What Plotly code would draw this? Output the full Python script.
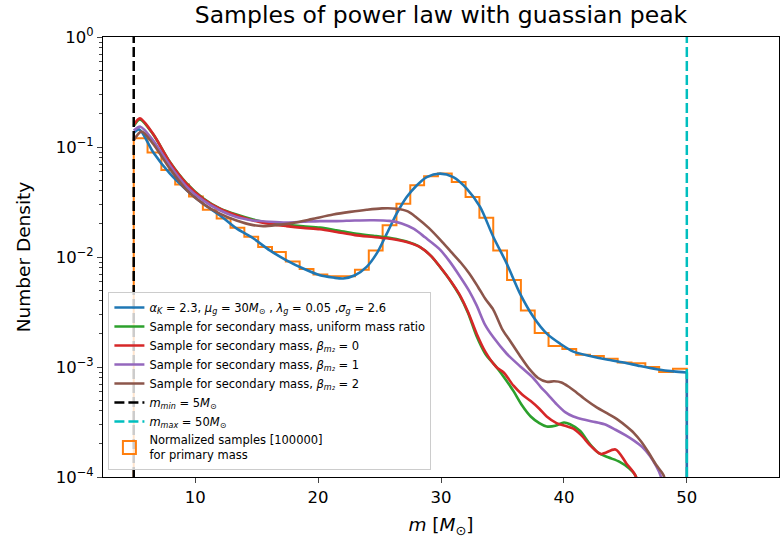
import numpy as np
import plotly.graph_objects as go

# ---------------- data ----------------
mmin = 5.0
mmax = 50.0

# model curve (power law + gaussian peak)
model_m = [5.0, 5.45, 6.57, 7.93, 9.29, 10.64, 12.0, 13.36, 14.72, 16.07, 17.43, 18.79,
           20.15, 21.23, 22.04, 23.0, 23.95, 24.76, 25.58, 26.39, 27.21, 28.02, 28.84,
           29.92, 31.0, 32.09, 33.18, 34.26, 35.35, 36.43, 37.52, 38.61, 39.69, 40.77,
           42.13, 43.49, 44.85, 46.2, 47.56, 48.92, 50.0]
model_p = [0.1349, 0.1445, 0.0902, 0.0575, 0.0407, 0.0305, 0.0240, 0.0182, 0.0148, 0.01148,
           0.00933, 0.00785, 0.00682, 0.00650, 0.00637, 0.00682, 0.00813, 0.01072, 0.01622,
           0.0248, 0.0351, 0.0447, 0.0533, 0.0573, 0.0533, 0.0419, 0.0285, 0.0152, 0.00871,
           0.00465, 0.00285, 0.00201, 0.00163, 0.00138, 0.00126, 0.00117, 0.00110, 0.00102,
           0.000955, 0.000912, 0.000891]

# histogram of primary-mass samples (40 bins between mmin and mmax)
hist_density = [0.1202, 0.0891, 0.0617, 0.0457, 0.0355, 0.0269, 0.0224, 0.0184, 0.0153,
                0.0123, 0.0111, 0.00912, 0.00776, 0.00692, 0.00668, 0.00668, 0.00767,
                0.01148, 0.0194, 0.0305, 0.0449, 0.0541, 0.0573, 0.0481, 0.0351, 0.0228,
                0.01148, 0.00617, 0.00327, 0.00204, 0.00155, 0.00146, 0.00129, 0.00126,
                0.00119, 0.00110, 0.00108, 0.00100, 0.000902, 0.000966]

# secondary mass, uniform mass ratio
green_m = [5.0, 5.5, 6.57, 7.93, 9.29, 10.64, 12.0, 13.36, 14.72, 16.07, 17.43, 18.79, 20.15,
           21.5, 23.0, 24.5, 26.0, 27.2, 28.3, 29.2, 30.0, 30.8, 31.5, 32.2, 32.9, 33.6,
           34.5, 35.3, 35.9, 36.6, 37.3, 38.0, 38.6, 39.3, 40.0, 40.5, 41.3, 42.1, 42.8,
           43.6, 44.5, 45.3, 45.8, 46.6]
green_p = [0.155, 0.178, 0.131, 0.0735, 0.0470, 0.0342, 0.0277, 0.0243, 0.0219, 0.0204,
           0.0196, 0.0190, 0.0185, 0.0175, 0.0163, 0.0156, 0.0148, 0.0138, 0.0123, 0.0102,
           0.0079, 0.0060, 0.00450, 0.00310, 0.00190, 0.00132, 0.00100, 0.000759, 0.000603,
           0.000447, 0.000355, 0.000309, 0.000288, 0.000292, 0.000313, 0.000302, 0.000263,
           0.000200, 0.000166, 0.000151, 0.000138, 0.000120, 0.000104, 0.00005]

# secondary mass, beta = 0
red_m = [5.0, 5.5, 6.57, 7.93, 9.29, 10.64, 12.0, 13.36, 14.72, 16.07, 17.43, 18.79, 20.15,
         21.5, 23.0, 24.5, 26.0, 27.2, 28.3, 29.2, 30.0, 30.8, 31.5, 32.2, 32.9, 33.6, 34.5,
         35.1, 35.9, 36.6, 37.3, 38.0, 38.6, 39.4, 40.1, 40.77, 41.4, 42.2, 43.0, 44.2, 45.1,
         45.8, 46.6]
red_p = [0.158, 0.182, 0.132, 0.0731, 0.0465, 0.0339, 0.0275, 0.0240, 0.0215, 0.0200, 0.0191,
         0.0184, 0.0179, 0.0169, 0.0158, 0.0152, 0.0146, 0.0137, 0.0123, 0.0102, 0.00794,
         0.00603, 0.00457, 0.00316, 0.00201, 0.00138, 0.00100, 0.000891, 0.000676, 0.000562,
         0.000490, 0.000417, 0.000355, 0.000309, 0.000292, 0.000275, 0.000240, 0.000191,
         0.000162, 0.000178, 0.000132, 0.000104, 0.00005]

# secondary mass, beta = 1
purple_m = [5.0, 5.54, 6.57, 7.93, 9.29, 10.64, 12.0, 13.36, 14.72, 16.07, 17.43, 18.79, 20.15,
            21.5, 23.0, 24.5, 25.8, 26.8, 27.8, 28.7, 29.9, 30.7, 31.5, 32.3, 32.9, 33.6,
            34.26, 35.35, 36.5, 37.5, 38.1, 38.7, 39.42, 40.1, 40.77, 41.5, 42.3, 43.3, 44.2,
            45.0, 45.7, 46.4, 47.0, 47.5, 47.85, 48.5]
purple_p = [0.141, 0.153, 0.115, 0.0682, 0.0437, 0.0327, 0.0266, 0.0231, 0.0215, 0.0209,
            0.0206, 0.0209, 0.0212, 0.0212, 0.0215, 0.0216, 0.0213, 0.0202, 0.0180, 0.0151,
            0.01175, 0.00912, 0.00676, 0.00490, 0.00363, 0.00240, 0.00186, 0.00132, 0.00100,
            0.000794, 0.000661, 0.000562, 0.000457, 0.000389, 0.000355, 0.000335, 0.000320,
            0.000302, 0.000269, 0.000240, 0.000214, 0.000186, 0.000155, 0.000126, 0.000104,
            0.00005]

# secondary mass, beta = 2
brown_m = [5.0, 5.63, 6.57, 7.93, 9.29, 10.64, 12.0, 13.36, 14.72, 15.53, 16.6, 17.97, 19.5,
           21.23, 22.6, 23.95, 25.2, 26.4, 27.3, 28.0, 29.0, 30.0, 30.8, 31.6, 32.3, 33.0,
           33.6, 34.26, 35.0, 35.6, 36.43, 37.2, 37.9, 38.6, 39.2, 39.8, 40.4, 41.0, 41.8,
           42.7, 43.5, 44.4, 45.1, 45.7, 46.3, 46.9, 47.5, 48.1, 48.7]
brown_p = [0.115, 0.138, 0.107, 0.0637, 0.0407, 0.0305, 0.0248, 0.0215, 0.0195, 0.0191,
           0.0195, 0.0204, 0.0221, 0.0243, 0.0257, 0.0269, 0.0277, 0.0275, 0.0260, 0.0229,
           0.0184, 0.0141, 0.0112, 0.00891, 0.00708, 0.00537, 0.00417, 0.00331, 0.00219,
           0.00174, 0.00126, 0.000955, 0.000794, 0.000733, 0.000741, 0.000724, 0.000661,
           0.000589, 0.000501, 0.000427, 0.000380, 0.000331, 0.000288, 0.000251, 0.000209,
           0.000166, 0.000129, 0.000104, 0.00005]

x_ticks = [10, 20, 30, 40, 50]
y_tick_vals = [1e-4, 1e-3, 1e-2, 1e-1, 1e0]
y_tick_text = ["10<sup>−4</sup>", "10<sup>−3</sup>", "10<sup>−2</sup>", "10<sup>−1</sup>", "10<sup>0</sup>"]

# ---------------- figure ----------------
BLUE, ORANGE, GREEN, RED, PURPLE, BROWN = "#1f77b4", "#ff7f0e", "#2ca02c", "#d62728", "#9467bd", "#8c564b"
FLOOR = 1e-7   # far below the visible axis: draws drops to zero density

n_bins = len(hist_density)
edges = np.linspace(mmin, mmax, n_bins + 1)
hx, hy = [edges[0]], [FLOOR]
for i, h in enumerate(hist_density):
    hx += [edges[i], edges[i + 1]]
    hy += [h, h]
hx.append(edges[-1]); hy.append(FLOOR)

fig = go.Figure()
LW = 2.6

fig.add_trace(go.Scatter(x=hx, y=hy, mode="lines", line=dict(color=ORANGE, width=2),
                         showlegend=False, legendgroup="hist"))
# legend entry for the histogram (outlined box like a step-histogram patch)
fig.add_trace(go.Scatter(x=[None], y=[None], mode="markers",
                         marker=dict(symbol="square-open", size=13, color=ORANGE, line=dict(width=2, color=ORANGE)),
                         name="Normalized samples [100000]<br>for primary mass", legendrank=8,
                         legendgroup="hist"))
fig.add_trace(go.Scatter(x=model_m, y=model_p, mode="lines", line=dict(color=BLUE, width=LW, shape="spline", smoothing=0.8),
                         name="<i>α<sub>K</sub></i> = 2.3, <i>μ<sub>g</sub></i> = 30<i>M</i><sub>⊙</sub> , <i>λ<sub>g</sub></i> = 0.05 ,<i>σ<sub>g</sub></i> = 2.6",
                         legendrank=1, legendgroup="model"))
fig.add_trace(go.Scatter(x=[model_m[-1], model_m[-1]], y=[model_p[-1], FLOOR], mode="lines",
                         line=dict(color=BLUE, width=LW), showlegend=False, legendgroup="model"))
curves = [
    (green_m, green_p, GREEN, "Sample for secondary mass, uniform mass ratio", 2),
    (red_m, red_p, RED, "Sample for secondary mass, <i>β<sub>m₂</sub></i> = 0", 3),
    (purple_m, purple_p, PURPLE, "Sample for secondary mass, <i>β<sub>m₂</sub></i> = 1", 4),
    (brown_m, brown_p, BROWN, "Sample for secondary mass, <i>β<sub>m₂</sub></i> = 2", 5),
]
for xm, yp, col, nm, rk in curves:
    fig.add_trace(go.Scatter(x=xm, y=yp, mode="lines", line=dict(color=col, width=LW, shape="spline", smoothing=0.8),
                             name=nm, legendrank=rk))

fig.add_trace(go.Scatter(x=[mmin, mmin], y=[1e-4, 1e0], mode="lines",
                         line=dict(color="black", width=2.5, dash="10px,4px"),
                         name="<i>m<sub>min</sub></i> = 5<i>M</i><sub>⊙</sub>", legendrank=6))
fig.add_trace(go.Scatter(x=[mmax, mmax], y=[1e-4, 1e0], mode="lines",
                         line=dict(color="#00bfbf", width=2.5, dash="10px,4px"),
                         name="<i>m<sub>max</sub></i> = 50<i>M</i><sub>⊙</sub>", legendrank=7))

minor_vals = [k * 10.0 ** e for e in range(-4, 0) for k in range(2, 10)]

fig.update_layout(
    width=783, height=543,
    margin=dict(l=103, r=4, t=37, b=66),
    paper_bgcolor="white", plot_bgcolor="white",
    font=dict(family="DejaVu Sans", color="black", size=16),
    title=dict(text="Samples of power law with guassian peak", x=0.5, xref="paper",
               y=1 - 15 / 543, yref="container", yanchor="middle", font=dict(size=23.5)),
    legend=dict(x=0.008, y=0.016, xanchor="left", yanchor="bottom",
                bgcolor="rgba(255,255,255,0.8)", bordercolor="#cccccc", borderwidth=1,
                font=dict(size=11.5), tracegroupgap=0, itemwidth=30),
    xaxis=dict(range=[2.5, 57.5], tickvals=x_ticks, ticks="outside", ticklen=5, tickwidth=1,
               tickfont=dict(size=16.5),
               showline=True, linecolor="black", linewidth=1, mirror=True, showgrid=False,
               zeroline=False, title=dict(text="<i>m</i> [<i>M</i><sub>⊙</sub>]", standoff=12,
                                          font=dict(size=18.5))),
    yaxis=dict(type="log", range=[-4, 0], tickvals=y_tick_vals, ticktext=y_tick_text,
               tickfont=dict(size=16.5),
               ticks="outside", ticklen=5, tickwidth=1, showline=True, linecolor="black",
               linewidth=1, mirror=True, showgrid=False, zeroline=False,
               minor=dict(tickvals=minor_vals, ticks="outside", ticklen=3, tickwidth=0.8, showgrid=False),
               title=dict(text="Number Density", standoff=20, font=dict(size=18.5))),
)

fig.write_html("out.html")
